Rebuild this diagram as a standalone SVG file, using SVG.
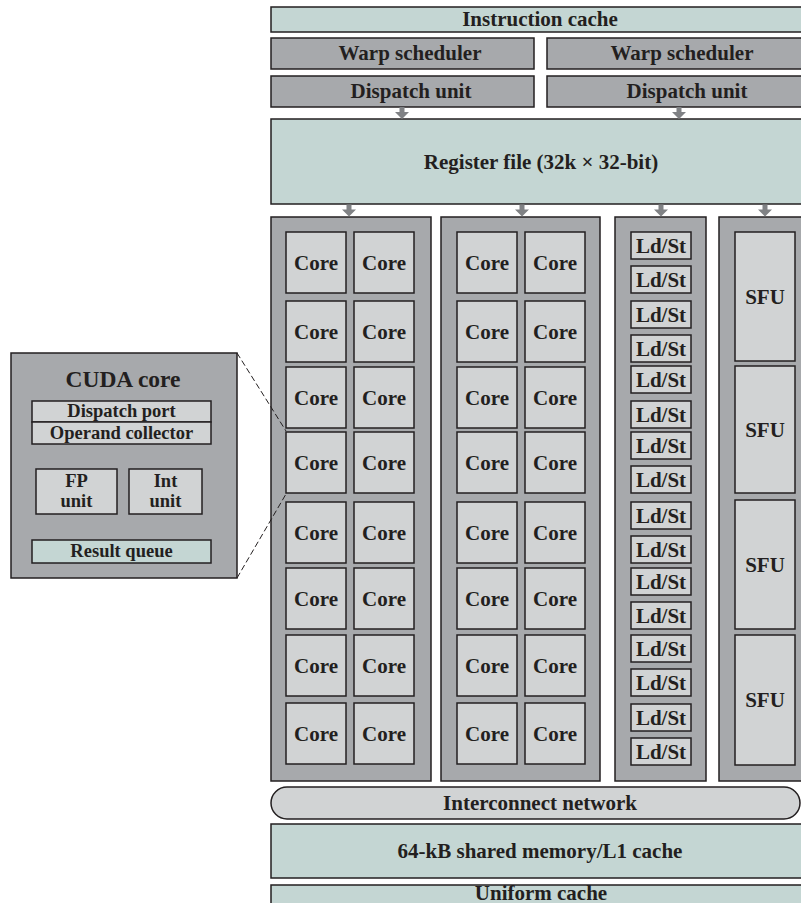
<svg xmlns="http://www.w3.org/2000/svg" xmlns:xlink="http://www.w3.org/1999/xlink" width="801" height="903" viewBox="0 0 801 903">
<style>
.b{stroke:#231f20;stroke-width:1.5}
.teal{fill:#c4d6d3}
.gray{fill:#a7a9ac}
.light{fill:#d1d3d4}
text{font-family:"Liberation Serif","Times New Roman",serif;font-weight:bold;fill:#231f20;text-anchor:middle;font-size:21px}
.s{font-size:18.5px}
.h{font-size:23.5px}
.arr{fill:#808285}
.dash{stroke:#231f20;stroke-width:1;stroke-dasharray:6 3;fill:none}
</style>
<defs>
<path id="arrow" d="M-2.5,0 h5 v5 h4.5 l-7,7 l-7,-7 h4.5 z"/>
</defs>
<rect width="801" height="903" fill="#ffffff"/>

<g id="instruction-cache"><rect class="b teal" x="271" y="7" width="545" height="25"/><text x="540" y="26">Instruction cache</text></g>
<g id="warp-scheduler-1"><rect class="b gray" x="271" y="38" width="263" height="31"/><text x="410" y="60">Warp scheduler</text></g>
<g id="warp-scheduler-2"><rect class="b gray" x="547" y="38" width="270" height="31"/><text x="682" y="60">Warp scheduler</text></g>
<g id="dispatch-unit-1"><rect class="b gray" x="271" y="76" width="263" height="31"/><text x="411" y="98">Dispatch unit</text></g>
<g id="dispatch-unit-2"><rect class="b gray" x="547" y="76" width="270" height="31"/><text x="687" y="98">Dispatch unit</text></g>
<g id="register-file"><rect class="b teal" x="271" y="119" width="545" height="85"/><text x="541" y="169">Register file (32k × 32-bit)</text></g>

<g id="panel-cores-1"><rect class="b gray" x="271" y="217" width="160" height="564"/></g>
<g id="panel-cores-2"><rect class="b gray" x="441" y="217" width="159" height="564"/></g>
<g id="panel-ldst"><rect class="b gray" x="615" y="217" width="91" height="564"/></g>
<g id="panel-sfu"><rect class="b gray" x="719" y="217" width="100" height="564"/></g>

<g id="cores-col1">
<g id="core-1-1"><rect class="b light" x="286" y="232" width="60" height="61"/><text x="316" y="269.5">Core</text></g>
<g id="core-2-1"><rect class="b light" x="286" y="301" width="60" height="61"/><text x="316" y="338.5">Core</text></g>
<g id="core-3-1"><rect class="b light" x="286" y="367" width="60" height="61"/><text x="316" y="404.5">Core</text></g>
<g id="core-4-1"><rect class="b light" x="286" y="432" width="60" height="61"/><text x="316" y="469.5">Core</text></g>
<g id="core-5-1"><rect class="b light" x="286" y="502" width="60" height="61"/><text x="316" y="539.5">Core</text></g>
<g id="core-6-1"><rect class="b light" x="286" y="568" width="60" height="61"/><text x="316" y="605.5">Core</text></g>
<g id="core-7-1"><rect class="b light" x="286" y="635" width="60" height="61"/><text x="316" y="672.5">Core</text></g>
<g id="core-8-1"><rect class="b light" x="286" y="703" width="60" height="61"/><text x="316" y="740.5">Core</text></g>
</g>
<g id="cores-col2">
<g id="core-1-2"><rect class="b light" x="354" y="232" width="60" height="61"/><text x="384" y="269.5">Core</text></g>
<g id="core-2-2"><rect class="b light" x="354" y="301" width="60" height="61"/><text x="384" y="338.5">Core</text></g>
<g id="core-3-2"><rect class="b light" x="354" y="367" width="60" height="61"/><text x="384" y="404.5">Core</text></g>
<g id="core-4-2"><rect class="b light" x="354" y="432" width="60" height="61"/><text x="384" y="469.5">Core</text></g>
<g id="core-5-2"><rect class="b light" x="354" y="502" width="60" height="61"/><text x="384" y="539.5">Core</text></g>
<g id="core-6-2"><rect class="b light" x="354" y="568" width="60" height="61"/><text x="384" y="605.5">Core</text></g>
<g id="core-7-2"><rect class="b light" x="354" y="635" width="60" height="61"/><text x="384" y="672.5">Core</text></g>
<g id="core-8-2"><rect class="b light" x="354" y="703" width="60" height="61"/><text x="384" y="740.5">Core</text></g>
</g>
<g id="cores-col3">
<g id="core-1-3"><rect class="b light" x="457" y="232" width="60" height="61"/><text x="487" y="269.5">Core</text></g>
<g id="core-2-3"><rect class="b light" x="457" y="301" width="60" height="61"/><text x="487" y="338.5">Core</text></g>
<g id="core-3-3"><rect class="b light" x="457" y="367" width="60" height="61"/><text x="487" y="404.5">Core</text></g>
<g id="core-4-3"><rect class="b light" x="457" y="432" width="60" height="61"/><text x="487" y="469.5">Core</text></g>
<g id="core-5-3"><rect class="b light" x="457" y="502" width="60" height="61"/><text x="487" y="539.5">Core</text></g>
<g id="core-6-3"><rect class="b light" x="457" y="568" width="60" height="61"/><text x="487" y="605.5">Core</text></g>
<g id="core-7-3"><rect class="b light" x="457" y="635" width="60" height="61"/><text x="487" y="672.5">Core</text></g>
<g id="core-8-3"><rect class="b light" x="457" y="703" width="60" height="61"/><text x="487" y="740.5">Core</text></g>
</g>
<g id="cores-col4">
<g id="core-1-4"><rect class="b light" x="525" y="232" width="60" height="61"/><text x="555" y="269.5">Core</text></g>
<g id="core-2-4"><rect class="b light" x="525" y="301" width="60" height="61"/><text x="555" y="338.5">Core</text></g>
<g id="core-3-4"><rect class="b light" x="525" y="367" width="60" height="61"/><text x="555" y="404.5">Core</text></g>
<g id="core-4-4"><rect class="b light" x="525" y="432" width="60" height="61"/><text x="555" y="469.5">Core</text></g>
<g id="core-5-4"><rect class="b light" x="525" y="502" width="60" height="61"/><text x="555" y="539.5">Core</text></g>
<g id="core-6-4"><rect class="b light" x="525" y="568" width="60" height="61"/><text x="555" y="605.5">Core</text></g>
<g id="core-7-4"><rect class="b light" x="525" y="635" width="60" height="61"/><text x="555" y="672.5">Core</text></g>
<g id="core-8-4"><rect class="b light" x="525" y="703" width="60" height="61"/><text x="555" y="740.5">Core</text></g>
</g>

<g id="ldst-units">
<g id="ldst-1"><rect class="b light" x="631" y="232" width="60" height="27"/><text x="661" y="252.5">Ld/St</text></g>
<g id="ldst-2"><rect class="b light" x="631" y="266" width="60" height="27"/><text x="661" y="286.5">Ld/St</text></g>
<g id="ldst-3"><rect class="b light" x="631" y="301" width="60" height="27"/><text x="661" y="321.5">Ld/St</text></g>
<g id="ldst-4"><rect class="b light" x="631" y="335" width="60" height="27"/><text x="661" y="355.5">Ld/St</text></g>
<g id="ldst-5"><rect class="b light" x="631" y="366" width="60" height="27"/><text x="661" y="386.5">Ld/St</text></g>
<g id="ldst-6"><rect class="b light" x="631" y="401" width="60" height="27"/><text x="661" y="421.5">Ld/St</text></g>
<g id="ldst-7"><rect class="b light" x="631" y="432" width="60" height="27"/><text x="661" y="452.5">Ld/St</text></g>
<g id="ldst-8"><rect class="b light" x="631" y="466" width="60" height="27"/><text x="661" y="486.5">Ld/St</text></g>
<g id="ldst-9"><rect class="b light" x="631" y="502" width="60" height="27"/><text x="661" y="522.5">Ld/St</text></g>
<g id="ldst-10"><rect class="b light" x="631" y="536" width="60" height="27"/><text x="661" y="556.5">Ld/St</text></g>
<g id="ldst-11"><rect class="b light" x="631" y="568" width="60" height="27"/><text x="661" y="588.5">Ld/St</text></g>
<g id="ldst-12"><rect class="b light" x="631" y="602" width="60" height="27"/><text x="661" y="622.5">Ld/St</text></g>
<g id="ldst-13"><rect class="b light" x="631" y="635" width="60" height="27"/><text x="661" y="655.5">Ld/St</text></g>
<g id="ldst-14"><rect class="b light" x="631" y="669" width="60" height="27"/><text x="661" y="689.5">Ld/St</text></g>
<g id="ldst-15"><rect class="b light" x="631" y="704" width="60" height="27"/><text x="661" y="724.5">Ld/St</text></g>
<g id="ldst-16"><rect class="b light" x="631" y="738" width="60" height="27"/><text x="661" y="758.5">Ld/St</text></g>
</g>

<g id="sfu-units">
<g id="sfu-1"><rect class="b light" x="735" y="232" width="60" height="129"/><text x="765" y="303.5">SFU</text></g>
<g id="sfu-2"><rect class="b light" x="735" y="366" width="60" height="127"/><text x="765" y="436.5">SFU</text></g>
<g id="sfu-3"><rect class="b light" x="735" y="500" width="60" height="129"/><text x="765" y="571.5">SFU</text></g>
<g id="sfu-4"><rect class="b light" x="735" y="635" width="60" height="130"/><text x="765" y="707">SFU</text></g>
</g>

<g id="interconnect-network"><rect class="b light" x="271" y="787" width="529" height="32" rx="16" ry="16"/><text x="540" y="810">Interconnect network</text></g>
<g id="shared-memory"><rect class="b teal" x="271" y="824" width="545" height="54"/><text x="540" y="858">64-kB shared memory/L1 cache</text></g>
<g id="uniform-cache"><rect class="b teal" x="271" y="885" width="545" height="30"/><text x="541" y="900">Uniform cache</text></g>

<g id="cuda-core">
<rect class="b gray" x="11" y="353" width="226" height="225"/>
<text class="h" x="123" y="387">CUDA core</text>
<g id="dispatch-port"><rect class="b light" x="32" y="401" width="179" height="21"/><text class="s" x="121.5" y="417">Dispatch port</text></g>
<g id="operand-collector"><rect class="b light" x="32" y="422" width="179" height="22"/><text class="s" x="121.5" y="438.5">Operand collector</text></g>
<g id="fp-unit"><rect class="b light" x="36" y="469" width="81" height="45"/><text class="s" x="76.5" y="487">FP</text><text class="s" x="76.5" y="507">unit</text></g>
<g id="int-unit"><rect class="b light" x="129" y="469" width="73" height="45"/><text class="s" x="165.5" y="487">Int</text><text class="s" x="165.5" y="507">unit</text></g>
<g id="result-queue"><rect class="b teal" x="32" y="540" width="179" height="23"/><text class="s" x="121.5" y="557">Result queue</text></g>
</g>

<g id="connectors">
<use xlink:href="#arrow" class="arr" x="402" y="107"/>
<use xlink:href="#arrow" class="arr" x="679" y="107"/>
<use xlink:href="#arrow" class="arr" x="349" y="204.5"/>
<use xlink:href="#arrow" class="arr" x="522" y="204.5"/>
<use xlink:href="#arrow" class="arr" x="661" y="204.5"/>
<use xlink:href="#arrow" class="arr" x="765" y="204.5"/>
<line class="dash" x1="237" y1="353" x2="286" y2="431"/>
<line class="dash" x1="237" y1="578" x2="286" y2="494"/>
</g>
</svg>
